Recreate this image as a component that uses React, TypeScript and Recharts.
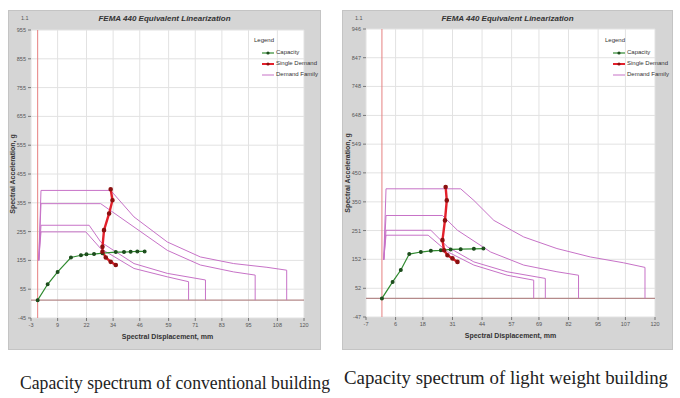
import React from "react"
import { LineChart, Line, XAxis, YAxis, CartesianGrid, ReferenceLine } from "recharts"

type Pt = [number, number]

// conventional building
const convXTicks = [-3, 9, 22, 34, 46, 59, 71, 83, 95, 108, 120]
const convYTicks = [-45, 55, 155, 255, 355, 455, 555, 655, 755, 855, 955]
const convCapacity: Pt[] = [
  [0, 17], [4.5, 72], [9, 115], [15, 165], [19.5, 173], [22, 176], [25.4, 177],
  [29.2, 180], [35.2, 184], [38.9, 184], [41.9, 185], [44.9, 186], [48.2, 186],
]
const convSingle: Pt[] = [
  [32.9, 402], [33.7, 364], [32.2, 318], [29.9, 260], [29.2, 202], [29.2, 185],
  [30.7, 165], [32.9, 150], [35.2, 139],
]
const convFamily1: Pt[] = [
  [0.5, 155], [1.5, 398], [32.9, 398], [43.4, 306], [58.4, 219], [73.3, 167],
  [88.3, 144], [103.3, 131], [112.2, 121], [112.2, 17],
]
const convFamily2: Pt[] = [
  [0.5, 155], [1.5, 352], [28.4, 352], [43.4, 271], [58.4, 190], [73.3, 139],
  [88.3, 115], [98, 104], [98, 17],
]
const convFamily3: Pt[] = [
  [0.5, 155], [1.5, 277], [23.2, 277], [28.4, 219], [43.4, 144], [58.4, 110],
  [75.6, 87], [75.6, 17],
]
const convFamily4: Pt[] = [
  [0.5, 155], [1.5, 254], [21.7, 254], [28.4, 196], [43.4, 127], [58.4, 98],
  [68, 81], [68, 17],
]

// light weight building
const lightXTicks = [-7, 6, 18, 31, 44, 57, 69, 82, 95, 107, 120]
const lightYTicks = [-47, 52, 152, 251, 350, 450, 549, 648, 748, 847, 946]
const lightCapacity: Pt[] = [
  [0, 17], [4.7, 74], [8.3, 115], [12, 170], [17.1, 177], [21.5, 181], [25.9, 183],
  [30.2, 186], [34.6, 187], [40.4, 188], [44.6, 189],
]
const lightSingle: Pt[] = [
  [28, 401], [28.5, 355], [27.7, 286], [26.6, 218], [27.3, 183], [28.8, 166],
  [31, 155], [33.2, 143],
]
const lightFamily1: Pt[] = [
  [0.8, 150], [1.8, 395], [34.6, 395], [40.4, 355], [49.2, 286], [62.3, 229],
  [76.9, 189], [91.6, 160], [106.1, 140], [115.6, 124], [115.6, 17],
]
const lightFamily2: Pt[] = [
  [0.8, 150], [1.8, 303], [26.6, 303], [33.2, 252], [47.8, 177], [62.3, 132],
  [76.9, 109], [86.4, 97], [86.4, 17],
]
const lightFamily3: Pt[] = [
  [0.8, 150], [1.8, 252], [21.5, 252], [28.8, 195], [40.4, 143], [55, 109],
  [71.8, 86], [71.8, 17],
]
const lightFamily4: Pt[] = [
  [0.8, 150], [1.8, 235], [20.3, 235], [28.8, 178], [40.4, 132], [55, 97],
  [66.7, 80], [66.7, 17],
]

const BASELINE = 17
const GREEN = "#2f8a2f"
const RED = "#e3202b"
const PINK = "#c772c7"
const narrow = "'Liberation Sans Narrow', 'Liberation Sans', Arial, sans-serif"

const toRows = (pts: Pt[]) => pts.map(([x, y]) => ({ x, y }))

type PanelProps = {
  left: number
  top: number
  width: number
  height: number
  margin: { top: number; right: number; bottom: number; left: number }
  xDomain: [number, number]
  yDomain: [number, number]
  xTicks: number[]
  yTicks: number[]
  capacity: Pt[]
  single: Pt[]
  family: Pt[][]
  legendLeft: number
}

function LegendBox({ left }: { left: number }) {
  const item = (color: string, label: string, marker: boolean, w: number) => (
    <div style={{ display: "flex", alignItems: "center", height: 11 }}>
      <svg width={12} height={6} style={{ marginRight: 2, flex: "none" }}>
        <line x1={0} y1={3} x2={12} y2={3} stroke={color} strokeWidth={w} />
        {marker && <circle cx={6} cy={3} r={1.6} fill={color === RED ? "#8b1010" : "#1d4d1d"} />}
      </svg>
      <span>{label}</span>
    </div>
  )
  return (
    <div
      style={{
        position: "absolute",
        left,
        top: 24,
        fontFamily: narrow,
        fontSize: 6,
        color: "#333",
        lineHeight: "11px",
        whiteSpace: "nowrap",
      }}
    >
      <div style={{ marginBottom: 1 }}>Legend</div>
      <div style={{ paddingLeft: 8 }}>
        {item(GREEN, "Capacity", true, 1.2)}
        {item(RED, "Single Demand", true, 2)}
        {item(PINK, "Demand Family", false, 1)}
      </div>
    </div>
  )
}

function Panel(p: PanelProps) {
  const tick = { fontSize: 5.5, fill: "#555", fontFamily: narrow }
  return (
    <div
      style={{
        position: "absolute",
        left: p.left,
        top: p.top,
        width: p.width,
        height: p.height,
        background: "#d5d5d5",
        border: "1px solid #c4c4c4",
        boxSizing: "border-box",
      }}
    >
      <div
        style={{
          position: "absolute",
          left: 0,
          right: 0,
          top: 3,
          textAlign: "center",
          fontFamily: narrow,
          fontStyle: "italic",
          fontWeight: "bold",
          fontSize: 8,
          color: "#333",
        }}
      >
        FEMA 440 Equivalent Linearization
      </div>
      <div style={{ position: "absolute", left: 12, top: 4, fontFamily: narrow, fontSize: 5.5, color: "#555" }}>
        1.1
      </div>
      <LineChart
        width={p.width - 2}
        height={p.height - 2}
        margin={p.margin}
        style={{ position: "absolute", left: 0, top: 0 }}
      >
        <CartesianGrid stroke="#e2e2e2" fill="#ffffff" />
        <XAxis
          type="number"
          dataKey="x"
          domain={p.xDomain}
          ticks={p.xTicks}
          interval={0}
          allowDataOverflow
          tick={tick}
          tickSize={3}
          axisLine={false}
          tickLine={{ stroke: "#777" }}
          height={12}
          label={{
            value: "Spectral Displacement, mm",
            position: "bottom",
            offset: 4,
            style: { fontSize: 7, fill: "#333", fontFamily: narrow, fontWeight: "bold" },
          }}
        />
        <YAxis
          type="number"
          dataKey="y"
          domain={p.yDomain}
          ticks={p.yTicks}
          interval={0}
          allowDataOverflow
          tick={tick}
          tickSize={3}
          axisLine={false}
          tickLine={{ stroke: "#777" }}
          width={20}
          label={{
            value: "Spectral Acceleration, g",
            angle: -90,
            position: "insideLeft",
            offset: 2,
            style: { fontSize: 7, fill: "#333", fontFamily: narrow, fontWeight: "bold", textAnchor: "middle" },
          }}
        />
        <ReferenceLine x={0} stroke="#e68080" strokeWidth={1} />
        <ReferenceLine y={BASELINE} stroke="#b58a8a" strokeWidth={1.3} />
        {p.family.map((f, i) => (
          <Line
            key={i}
            data={toRows(f)}
            dataKey="y"
            type="linear"
            stroke={PINK}
            strokeWidth={1}
            dot={false}
            isAnimationActive={false}
          />
        ))}
        <Line
          data={toRows(p.capacity)}
          dataKey="y"
          type="linear"
          stroke={GREEN}
          strokeWidth={1.2}
          dot={{ r: 1.4, fill: "#1d4d1d", stroke: "#1d4d1d" }}
          isAnimationActive={false}
        />
        <Line
          data={toRows(p.single)}
          dataKey="y"
          type="linear"
          stroke={RED}
          strokeWidth={2.4}
          dot={{ r: 1.1, fill: "#8b1010", stroke: "#8b1010" }}
          isAnimationActive={false}
        />
      </LineChart>
      <LegendBox left={p.legendLeft} />
    </div>
  )
}

export default function App() {
  return (
    <div style={{ position: "absolute", left: 0, top: 0, width: 680, height: 398, background: "#fff", overflow: "hidden" }}>
      <Panel
        left={8}
        top={10}
        width={313}
        height={340}
        margin={{ top: 19, right: 16, bottom: 19, left: 2 }}
        xDomain={[-3, 120]}
        yDomain={[-45, 955]}
        xTicks={convXTicks}
        yTicks={convYTicks}
        capacity={convCapacity}
        single={convSingle}
        family={[convFamily1, convFamily2, convFamily3, convFamily4]}
        legendLeft={245}
      />
      <Panel
        left={342}
        top={10}
        width={331}
        height={340}
        margin={{ top: 18, right: 17, bottom: 20, left: 3 }}
        xDomain={[-7, 120]}
        yDomain={[-47, 946]}
        xTicks={lightXTicks}
        yTicks={lightYTicks}
        capacity={lightCapacity}
        single={lightSingle}
        family={[lightFamily1, lightFamily2, lightFamily3, lightFamily4]}
        legendLeft={262}
      />
      <svg width={680} height={398} style={{ position: "absolute", left: 0, top: 0, pointerEvents: "none" }}>
        <text
          x={20}
          y={389}
          textLength={310}
          lengthAdjust="spacingAndGlyphs"
          fontFamily="'Liberation Serif', 'Times New Roman', serif"
          fontSize={19}
          fill="#222"
        >
          Capacity  spectrum of conventional building
        </text>
        <text
          x={344}
          y={384}
          textLength={324}
          lengthAdjust="spacingAndGlyphs"
          fontFamily="'Liberation Serif', 'Times New Roman', serif"
          fontSize={19}
          fill="#222"
        >
          Capacity spectrum  of light weight  building
        </text>
      </svg>
    </div>
  )
}
